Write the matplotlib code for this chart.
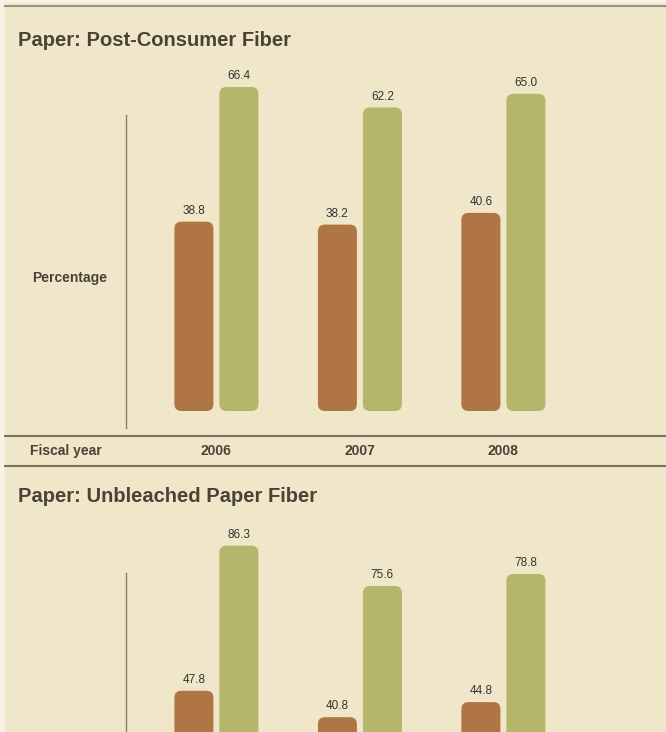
import matplotlib.pyplot as plt
from matplotlib.patches import FancyBboxPatch, Rectangle
from matplotlib.lines import Line2D

# data
years = ['2006', '2007', '2008']
post_consumer_a = [38.8, 38.2, 40.6]
post_consumer_b = [66.4, 62.2, 65.0]
unbleached_a = [47.8, 40.8, 44.8]
unbleached_b = [86.3, 75.6, 78.8]

plt.rcParams['font.family'] = ['Liberation Sans', 'DejaVu Sans']

W, H = 666, 732
BG = '#f0e6ca'
BROWN = '#b07545'
GREEN = '#b5b56b'
DARK = '#4b4236'
LINE = '#7d7262'

# x layout (pixels)
AX_LEFT = 126
GROUP_STEP = 143.5
X0 = -0.63
BAR_W = 39 / GROUP_STEP
OFF = 22.5 / GROUP_STEP


def fy(y):
    return 1 - y / H


fig = plt.figure(figsize=(W / 100, H / 100), dpi=100, facecolor='#f8f3e6')
fig.patches.append(Rectangle((5 / W, 0), 1, (H - 3) / H, transform=fig.transFigure,
                             color=BG, zorder=-10))
fig.add_artist(Line2D([5 / W, 1], [fy(5.5)] * 2, color='#9c917f', lw=1.5))


def panel(title, title_y, brown, green, top, bottom, base, scale, spine_top, label_y,
          show_ticks):
    ax = fig.add_axes([AX_LEFT / W, 1 - bottom / H, (W - AX_LEFT) / W, (bottom - top) / H])
    ax.patch.set_visible(False)
    y_lo = -(bottom - base) / scale
    y_hi = (base - top) / scale
    ax.set_ylim(y_lo, y_hi)
    ax.set_xlim(X0, X0 + (W - AX_LEFT) / GROUP_STEP)
    for s in ['top', 'right', 'bottom']:
        ax.spines[s].set_visible(False)
    ax.spines['left'].set_color('#8a7f70')
    ax.spines['left'].set_linewidth(1.0)
    ax.spines['left'].set_bounds(y_lo, (base - spine_top) / scale)
    ax.set_yticks([])

    asp = GROUP_STEP / scale
    r = 7 / GROUP_STEP
    for i in range(len(years)):
        for vals, off, col in [(brown, -OFF, BROWN), (green, OFF, GREEN)]:
            v = vals[i]
            xc = i + off
            p = FancyBboxPatch((xc - BAR_W / 2, 0), BAR_W, v,
                               boxstyle=f'round,pad=0,rounding_size={r}',
                               mutation_aspect=asp, fc=col, ec='none')
            ax.add_patch(p)
            ax.annotate(f'{v:.1f}', (xc, v), xytext=(0, 3.5), textcoords='offset points',
                        ha='center', va='bottom', fontsize=8.5, color='#333333')

    if show_ticks:
        ax.set_xticks(range(len(years)))
        ax.set_xticklabels(years, fontsize=10, fontweight='bold', color=DARK)
        ax.tick_params(axis='x', length=0, pad=11.5)
    else:
        ax.set_xticks([])

    fig.text(18 / W, fy(title_y), title, fontsize=14.5, fontweight='bold',
             va='center', color=DARK)
    fig.text(32 / W, fy(label_y), 'Percentage', fontsize=10,
             fontweight='bold', va='center', color=DARK)
    return ax


panel('Paper: Post-Consumer Fiber', 40, post_consumer_a, post_consumer_b,
      top=60, bottom=428, base=411, scale=4.88, spine_top=115, label_y=278,
      show_ticks=True)
panel('Paper: Unbleached Paper Fiber', 497, unbleached_a, unbleached_b,
      top=520, bottom=888, base=871, scale=3.77, spine_top=573, label_y=740,
      show_ticks=False)

fig.add_artist(Line2D([5 / W, 1], [fy(435.5)] * 2, color=LINE, lw=1.5))
fig.add_artist(Line2D([5 / W, 1], [fy(465.5)] * 2, color=LINE, lw=1.5))
fig.text(30 / W, fy(451), 'Fiscal year', fontsize=10, fontweight='bold',
         va='center', color=DARK)

fig.savefig('out.png', dpi=100, facecolor=fig.get_facecolor())
